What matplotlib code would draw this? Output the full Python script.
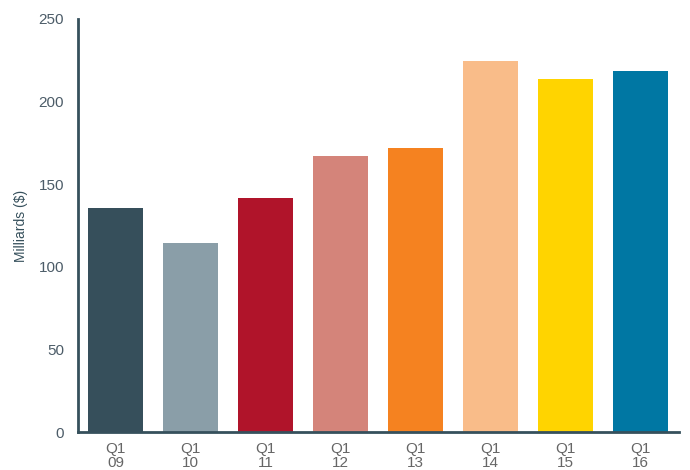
import matplotlib
matplotlib.use("Agg")
import matplotlib.pyplot as plt

categories = ["Q1\n09", "Q1\n10", "Q1\n11", "Q1\n12", "Q1\n13", "Q1\n14", "Q1\n15", "Q1\n16"]
values = [135.6, 114.4, 141.6, 167, 172, 224.6, 213.7, 218.5]
colors = ["#364f5b", "#8a9ea8", "#b0142a", "#d4847a", "#f58220", "#f9bc89", "#ffd400", "#0077a3"]
yticks = [0, 50, 100, 150, 200, 250]

plt.rcParams['font.family'] = ['Liberation Sans', 'DejaVu Sans']

fig = plt.figure(figsize=(6.9, 4.7), dpi=100)
ax = fig.add_axes([78/690, 38/470, 601/690, 413/470])

x = list(range(len(categories)))
ax.bar(x, values, width=0.733, color=colors)

ax.set_xlim(-0.505, 7.51)
ax.set_ylim(0, 250)
ax.set_yticks(yticks)
ax.set_yticklabels([str(v) for v in yticks], color="#4c5c68", fontsize=11)
ax.set_xticks(x)
ax.set_xticklabels(categories, color="#666666", fontsize=11, linespacing=1.05)
ax.tick_params(axis='both', length=0)
ax.tick_params(axis='y', pad=10)
ax.tick_params(axis='x', pad=7)

for s in ["top", "right"]:
    ax.spines[s].set_visible(False)
for s in ["left", "bottom"]:
    ax.spines[s].set_color("#36505c")
    ax.spines[s].set_linewidth(2)

ax.set_ylabel("Milliards ($)", color="#36505c", fontsize=10, labelpad=8)

fig.savefig("out.png", dpi=100)
